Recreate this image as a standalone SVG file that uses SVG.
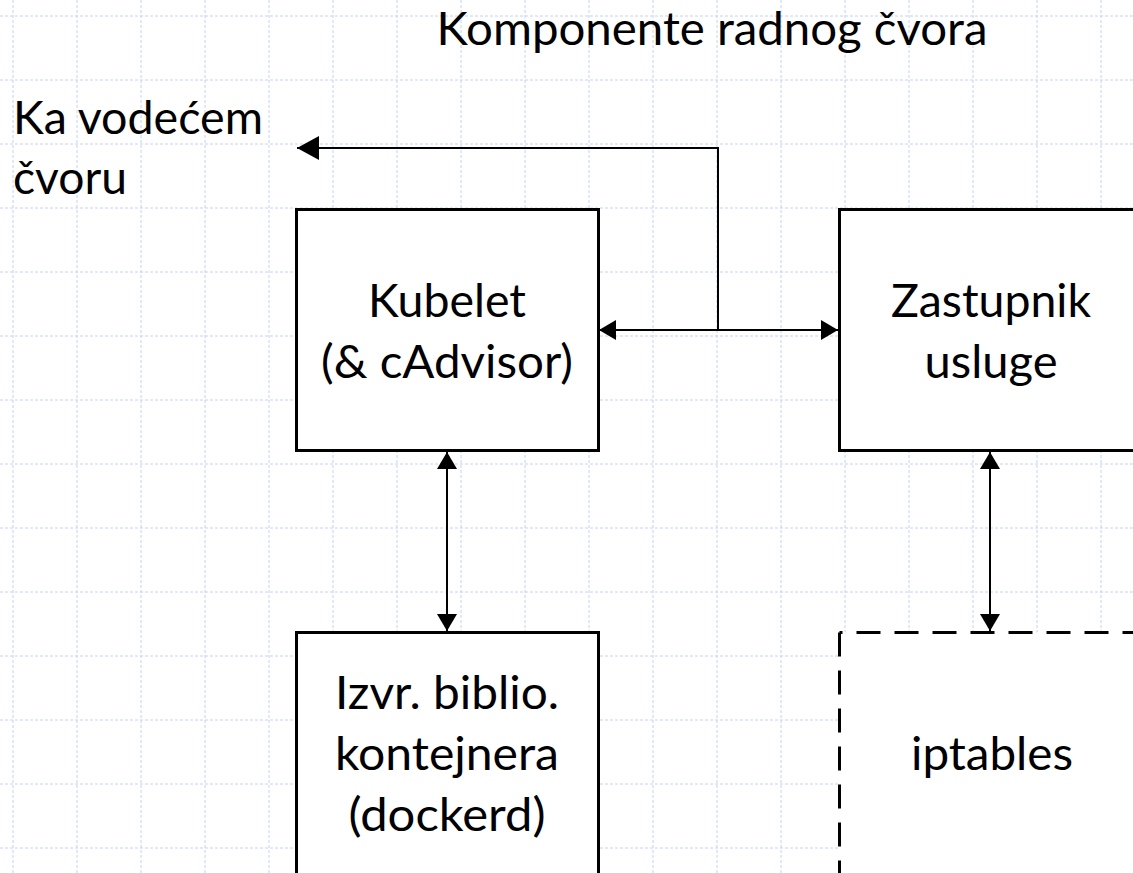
<svg xmlns="http://www.w3.org/2000/svg" width="1133" height="873" viewBox="0 0 1133 873">
  <style>
    .grid { stroke: #c4d2fa; stroke-width: 1; stroke-dasharray: 3 2; fill: none; }
    .box { fill: #ffffff; stroke: #000000; stroke-width: 3; }
    .dbox { fill: #ffffff; stroke: none; }
    .dash { stroke: #000000; stroke-width: 3; stroke-dasharray: 24 14; fill: none; }
    .conn { stroke: #000000; stroke-width: 2; fill: none; }
    .t { font-family: Lato, "Open Sans", "Liberation Sans", sans-serif; font-size: 46px; fill: #000000; }
    .c { text-anchor: middle; }
  </style>
  <defs>
    <marker id="ah" markerUnits="userSpaceOnUse" markerWidth="18" markerHeight="20" refX="17" refY="10" orient="auto-start-reverse" viewBox="0 0 18 20">
      <path d="M0,0 L17,10 L0,20 Z" fill="#000000"/>
    </marker>
    <marker id="ahBig" markerUnits="userSpaceOnUse" markerWidth="23" markerHeight="24" refX="22" refY="12" orient="auto" viewBox="0 0 23 24">
      <path d="M0,0 L22,12 L0,24 Z" fill="#000000"/>
    </marker>
  </defs>

  <rect x="0" y="0" width="1133" height="873" fill="#ffffff"/>

  <g id="grid">
    <path class="grid" d="M13,0V873 M77,0V873 M141,0V873 M205,0V873 M269,0V873 M333,0V873 M397,0V873 M461,0V873 M525,0V873 M589,0V873 M653,0V873 M717,0V873 M781,0V873 M845,0V873 M909,0V873 M973,0V873 M1037,0V873 M1101,0V873"/>
    <path class="grid" d="M0,16H1133 M0,80H1133 M0,144H1133 M0,208H1133 M0,272H1133 M0,336H1133 M0,400H1133 M0,464H1133 M0,528H1133 M0,592H1133 M0,656H1133 M0,720H1133 M0,784H1133 M0,848H1133"/>
  </g>

  <g id="title">
    <text class="t c" x="712" y="45" textLength="551" lengthAdjust="spacingAndGlyphs">Komponente radnog čvora</text>
  </g>

  <g id="label-master">
    <text class="t" x="13" y="134" textLength="250" lengthAdjust="spacingAndGlyphs">Ka vodećem</text>
    <text class="t" x="13" y="194" textLength="114" lengthAdjust="spacingAndGlyphs">čvoru</text>
  </g>

  <g id="node-kubelet">
    <rect class="box" x="296.5" y="209.5" width="302" height="241"/>
    <text class="t c" x="447" y="317" textLength="158" lengthAdjust="spacingAndGlyphs">Kubelet</text>
    <text class="t c" x="447" y="378" textLength="252" lengthAdjust="spacingAndGlyphs">(&amp; cAdvisor)</text>
  </g>

  <g id="node-proxy">
    <rect class="box" x="839.5" y="209.5" width="305" height="241"/>
    <text class="t c" x="991" y="317" textLength="200" lengthAdjust="spacingAndGlyphs">Zastupnik</text>
    <text class="t c" x="991" y="378" textLength="133" lengthAdjust="spacingAndGlyphs">usluge</text>
  </g>

  <g id="node-runtime">
    <rect class="box" x="296.5" y="632.5" width="302" height="260"/>
    <text class="t c" x="447" y="709" textLength="224" lengthAdjust="spacingAndGlyphs">Izvr. biblio.</text>
    <text class="t c" x="447" y="770" textLength="224" lengthAdjust="spacingAndGlyphs">kontejnera</text>
    <text class="t c" x="447" y="831" textLength="197" lengthAdjust="spacingAndGlyphs">(dockerd)</text>
  </g>

  <g id="node-iptables">
    <rect class="dbox" x="839.5" y="632.5" width="305" height="260"/>
    <path class="dash" d="M839.5,632.5 H1133" stroke-dashoffset="21"/>
    <path class="dash" d="M839.5,632.5 V873"/>
    <text class="t c" x="992" y="770" textLength="162" lengthAdjust="spacingAndGlyphs">iptables</text>
  </g>

  <g id="connectors">
    <path class="conn" d="M718,330 V148 H297" marker-end="url(#ahBig)"/>
    <path class="conn" d="M599,330 H838" marker-start="url(#ah)" marker-end="url(#ah)"/>
    <path class="conn" d="M447,452 V631" marker-start="url(#ah)" marker-end="url(#ah)"/>
    <path class="conn" d="M990,452 V631" marker-start="url(#ah)" marker-end="url(#ah)"/>
  </g>
</svg>
